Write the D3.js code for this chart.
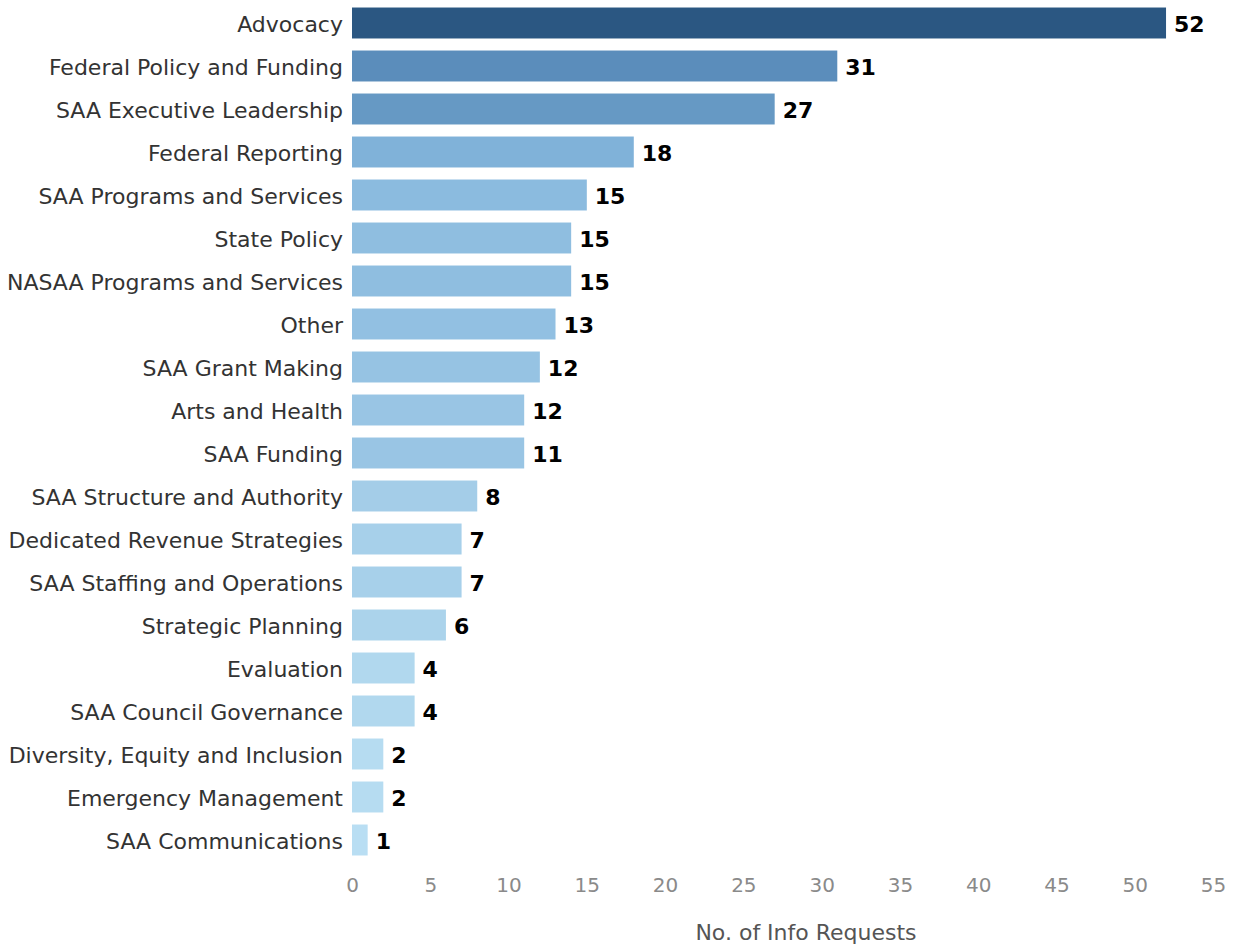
<!DOCTYPE html>
<html>
<head>
<meta charset="utf-8">
<script src="https://cdn.jsdelivr.net/npm/d3@7"></script>
<style>
  html, body { margin: 0; padding: 0; background: #fff; }
  svg { display: block; }
</style>
</head>
<body>
<svg id="chart" width="1240" height="947"></svg>
<script>
const categories = [
  "Advocacy", "Federal Policy and Funding", "SAA Executive Leadership", "Federal Reporting",
  "SAA Programs and Services", "State Policy", "NASAA Programs and Services", "Other",
  "SAA Grant Making", "Arts and Health", "SAA Funding", "SAA Structure and Authority",
  "Dedicated Revenue Strategies", "SAA Staffing and Operations", "Strategic Planning",
  "Evaluation", "SAA Council Governance", "Diversity, Equity and Inclusion",
  "Emergency Management", "SAA Communications"
];
// bar lengths as drawn in the picture
const values = [52, 31, 27, 18, 15, 14, 14, 13, 12, 11, 11, 8, 7, 7, 6, 4, 4, 2, 2, 1];
// numbers printed at bar ends
const valueLabels = [52, 31, 27, 18, 15, 15, 15, 13, 12, 12, 11, 8, 7, 7, 6, 4, 4, 2, 2, 1];
const ticks = [0, 5, 10, 15, 20, 25, 30, 35, 40, 45, 50, 55];
const axisTitle = "No. of Info Requests";

const colorStops = [1, 4, 8, 15, 18, 27, 31, 52];
const colorValues = ["#b9def3", "#b1d8ee", "#a4cde8", "#8bbbdf", "#80b2d9", "#6699c4", "#5b8dbb", "#2b5782"];

const svg = d3.select("#chart");
const x = d3.scaleLinear().domain([0, 55]).range([352, 1213]);
const y = d3.scaleBand().domain(categories).range([1.5, 861.5]).paddingInner(0.28).paddingOuter(0.14);
const color = d3.scaleLinear().domain(colorStops).range(colorValues);

const font = "'DejaVu Sans', Verdana, sans-serif";

const rows = categories.map((c, i) => ({ c, v: values[i], l: valueLabels[i] }));

svg.append("g").selectAll("rect").data(rows).join("rect")
  .attr("x", x(0))
  .attr("y", d => y(d.c))
  .attr("width", d => x(d.v) - x(0))
  .attr("height", y.bandwidth())
  .attr("fill", d => color(d.v));

// category labels
svg.append("g").selectAll("text").data(rows).join("text")
  .attr("x", 343)
  .attr("y", d => y(d.c) + y.bandwidth() / 2 + 1.5)
  .attr("dy", "0.36em")
  .attr("text-anchor", "end")
  .attr("font-family", font)
  .attr("font-size", 22)
  .attr("fill", "#333")
  .text(d => d.c);

// value labels
svg.append("g").selectAll("text").data(rows).join("text")
  .attr("x", d => x(d.v) + 8)
  .attr("y", d => y(d.c) + y.bandwidth() / 2 + 1.5)
  .attr("dy", "0.36em")
  .attr("font-family", font)
  .attr("font-weight", "bold")
  .attr("font-size", 22)
  .attr("fill", "#000")
  .text(d => d.l);

// x axis
const axis = d3.axisBottom(x).tickValues(ticks).tickSize(0).tickPadding(0);
const gx = svg.append("g").attr("transform", "translate(0,878)").call(axis);
gx.select(".domain").remove();
gx.selectAll("text")
  .attr("font-family", font)
  .attr("font-size", 20)
  .attr("fill", "#8a8a8a");

svg.append("text")
  .attr("x", 806)
  .attr("y", 940)
  .attr("text-anchor", "middle")
  .attr("font-family", font)
  .attr("font-size", 22)
  .attr("fill", "#555")
  .text(axisTitle);
</script>
</body>
</html>
